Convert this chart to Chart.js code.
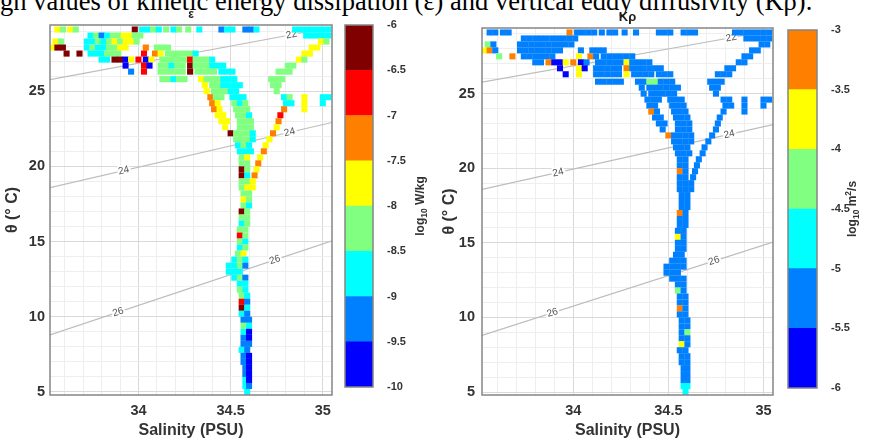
<!DOCTYPE html>
<html>
<head>
<meta charset="utf-8">
<script src="https://cdn.jsdelivr.net/npm/chart.js@4.4.1/dist/chart.umd.min.js"></script>
<style>
  html, body { margin: 0; padding: 0; background: #fff; }
  body { width: 876px; height: 441px; position: relative; overflow: hidden; }
  canvas { position: absolute; top: 0; }
  #caption {
    position: absolute; left: 0; top: -12.5px;
    font-family: 'Liberation Serif', 'Times New Roman', serif;
    font-size: 26.5px; line-height: 26.5px; white-space: nowrap; color: #000;
  }
</style>
</head>
<body>
<div id="caption">gh values of kinetic energy dissipation (ε) and vertical eddy diffusivity (Kρ).</div>
<canvas id="epsChart" width="340" height="441" style="left:0"></canvas>
<canvas id="epsBar" width="90" height="441" style="left:340px"></canvas>
<canvas id="krhoChart" width="350" height="441" style="left:430px"></canvas>
<canvas id="krhoBar" width="96" height="441" style="left:780px"></canvas>
<script>
// binned T-S cells, one row per potential temperature level
const rowTheta = [29.1, 28.7, 28.3, 27.9, 27.5, 27.1, 26.7, 26.3, 25.8, 25.4, 25.0, 24.6, 24.2, 23.8, 23.4, 23.0,
  22.6, 22.2, 21.8, 21.4, 21.0, 20.6, 20.2, 19.8, 19.4, 19.0, 18.6, 18.2, 17.8, 17.4, 17.0, 16.6, 16.2, 15.8, 15.4,
  15.0, 14.6, 14.2, 13.8, 13.4, 13.0, 12.6, 12.2, 11.8, 11.4, 11.0, 10.6, 10.2, 9.8, 9.4, 9.0, 8.6, 8.2, 7.8, 7.4,
  7.0, 6.6, 6.2, 5.8, 5.4, 5.0];

const rowSal = [
  [33.56,33.59,33.63,33.66,33.98,34.02,34.05,34.08,34.11,34.15,34.19,34.22,34.27,34.33,34.45,34.48,34.51,34.58,34.61,34.64,34.85,34.88,34.91,34.94,34.97,35.00,35.03],
  [33.74,33.77,33.80,33.83,33.86,33.89,33.92,33.95,33.98,34.01,34.91,34.94,34.97,35.00,35.03],
  [33.55,33.58,33.72,33.75,33.78,33.81,33.84,33.87,33.90,33.93,33.96,33.99,34.99,35.02],
  [33.53,33.56,33.59,33.72,33.75,33.78,33.81,33.84,33.87,33.90,33.93,34.04,34.10,34.13,34.16,34.94,34.97],
  [33.61,33.68,33.74,33.77,33.80,33.83,33.86,33.89,34.03,34.09,34.12,34.16,34.19,34.22,34.25,34.28,34.31,34.90,34.93],
  [33.80,33.83,33.87,33.90,33.93,33.96,34.00,34.04,34.07,34.13,34.16,34.19,34.22,34.25,34.28,34.31,34.34,34.37,34.40,34.87,34.90],
  [33.93,34.03,34.06,34.12,34.15,34.18,34.21,34.24,34.28,34.31,34.34,34.37,34.40,34.43,34.46,34.81,34.84],
  [33.96,34.03,34.12,34.15,34.18,34.21,34.24,34.28,34.32,34.35,34.38,34.41,34.45,34.48,34.51,34.76,34.79,34.82],
  [34.13,34.16,34.19,34.22,34.25,34.34,34.37,34.40,34.43,34.46,34.49,34.52,34.72,34.75,34.78],
  [34.36,34.40,34.43,34.46,34.49,34.52,34.55,34.73,34.76],
  [34.37,34.41,34.44,34.47,34.50,34.53,34.75],
  [34.39,34.42,34.45,34.51,34.54,34.57,34.79,34.82,34.90,35.00,35.03],
  [34.40,34.43,34.52,34.55,34.58,34.80,34.83,34.90,35.00],
  [34.41,34.44,34.53,34.56,34.59,34.79,34.90],
  [34.43,34.46,34.54,34.57,34.60,34.77],
  [34.45,34.48,34.55,34.58,34.61,34.76],
  [34.47,34.55,34.58,34.61,34.75],
  [34.50,34.53,34.56,34.59,34.62,34.73],
  [34.53,34.56,34.59,34.62,34.71],
  [34.54,34.57,34.60,34.69],
  [34.55,34.58,34.61,34.68],
  [34.56,34.59,34.66],
  [34.56,34.59,34.65],
  [34.56,34.59,34.64],
  [34.56,34.59,34.63],
  [34.56,34.59,34.62],
  [34.56,34.59,34.62],
  [34.57,34.60], [34.57,34.60], [34.57,34.60], [34.56,34.59], [34.56,34.59], [34.56,34.59], [34.55,34.58],
  [34.55,34.58], [34.55,34.58], [34.55,34.58], [34.54,34.57],
  [34.52,34.55,34.58], [34.49,34.52,34.55,34.58], [34.49,34.52,34.55], [34.52,34.55,34.58],
  [34.55,34.58], [34.55,34.58], [34.56,34.59], [34.56,34.59], [34.56,34.59], [34.56,34.59],
  [34.57,34.60], [34.57,34.60], [34.57,34.60], [34.57,34.60], [34.57,34.60], [34.56,34.59],
  [34.57,34.60], [34.57,34.60], [34.58,34.60], [34.58,34.60], [34.58,34.60], [34.58,34.60], [34.59]
];

// log10 epsilon (W/kg)
const rowEps = [
  [-7.7,-8.2,-7.8,-8.3,-6.2,-8.7,-8.6,-8.3,-8.7,-8.2,-8.6,-8.3,-8.4,-8.8,-9.3,-8.7,-8.6,-9.2,-9.4,-8.8,-8.7,-8.6,-8.8,-8.7,-8.6,-8.7,-8.8],
  [-8.7,-8.3,-9.3,-8.6,-8.2,-8.3,-7.8,-7.7,-8.2,-8.4,-8.7,-8.6,-8.7,-8.8,-8.6],
  [-7.6,-8.2,-8.7,-8.8,-8.3,-8.6,-8.2,-7.8,-8.3,-7.7,-7.8,-8.2,-7.6,-8.3],
  [-7.7,-6.1,-6.3,-8.7,-8.3,-8.7,-8.6,-8.3,-8.2,-7.7,-7.8,-7.2,-8.3,-8.2,-8.3,-7.7,-7.8],
  [-6.2,-6.3,-8.7,-8.8,-8.6,-8.3,-8.2,-8.3,-6.7,-7.1,-7.7,-8.2,-8.3,-8.2,-8.3,-8.2,-8.7,-7.7,-7.8],
  [-8.7,-8.6,-6.1,-6.2,-9.6,-7.7,-6.6,-9.7,-7.7,-8.2,-8.3,-8.2,-8.3,-8.2,-6.6,-8.3,-8.2,-8.3,-8.7,-7.7,-8.2],
  [-9.7,-6.8,-9.8,-8.2,-8.3,-8.7,-8.2,-8.3,-6.2,-8.2,-8.3,-8.2,-8.6,-8.7,-8.8,-8.2,-8.3],
  [-9.3,-6.6,-8.2,-8.3,-8.2,-8.3,-8.2,-6.2,-8.2,-8.3,-8.2,-8.3,-8.7,-8.6,-8.7,-8.2,-8.3,-8.2],
  [-8.3,-8.2,-8.7,-8.3,-8.2,-7.7,-8.2,-8.3,-8.2,-8.7,-8.6,-8.7,-8.2,-8.3,-8.2],
  [-7.8,-8.2,-8.3,-8.6,-8.7,-8.8,-8.7,-8.2,-8.3],
  [-7.7,-8.2,-8.3,-8.2,-8.7,-8.6,-8.2],
  [-7.3,-8.2,-8.3,-8.7,-8.6,-8.7,-8.7,-8.2,-7.7,-8.7,-8.6],
  [-7.2,-7.7,-8.2,-8.7,-8.2,-8.7,-8.6,-7.8,-8.7],
  [-7.3,-7.8,-8.2,-8.3,-8.2,-7.2,-7.7],
  [-7.7,-7.8,-8.3,-8.2,-8.7,-6.8],
  [-7.8,-7.7,-8.2,-8.3,-8.2,-7.3],
  [-7.7,-8.2,-8.3,-8.2,-7.7],
  [-6.1,-8.2,-8.3,-8.2,-8.7,-7.3],
  [-8.2,-8.3,-8.2,-8.7,-7.7],
  [-8.7,-8.2,-8.7,-7.8],
  [-8.6,-8.7,-8.8,-7.3],
  [-8.2,-7.7,-7.7],
  [-8.3,-8.2,-7.2],
  [-6.1,-8.2,-7.7],
  [-6.2,-8.7,-7.3],
  [-8.2,-8.3,-7.8],
  [-8.2,-7.7,-7.8],
  [-8.3,-8.2], [-7.7,-8.2], [-8.2,-8.7], [-6.2,-8.2], [-8.3,-8.2], [-8.7,-8.3], [-8.2,-8.3],
  [-6.7,-8.2], [-8.3,-8.7], [-8.7,-8.2], [-8.2,-7.8],
  [-8.7,-8.2,-8.7], [-8.7,-8.8,-8.2,-9.3], [-8.6,-8.7,-8.7], [-8.7,-8.2,-9.2],
  [-8.7,-8.6], [-8.2,-8.7], [-8.3,-8.7], [-6.8,-9.3], [-6.2,-8.7], [-8.7,-9.3],
  [-9.2,-9.3], [-8.3,-8.7], [-8.7,-9.8], [-9.3,-9.7], [-9.2,-9.3], [-8.7,-9.3],
  [-9.3,-9.8], [-9.2,-9.7], [-9.3,-9.8], [-9.2,-9.7], [-8.7,-9.8], [-8.7,-9.3], [-8.8]
];

// log10 K_rho (m^2/s)
const rowKrho = [
  [-5.3,-5.2,-5.3,-5.2,-3.2,-5.2,-5.3,-5.2,-5.2,-5.3,-5.2,-5.2,-5.3,-5.2,-5.3,-5.2,-5.2,-5.3,-5.2,-5.2,-5.3,-5.2,-5.2,-5.3,-5.2,-5.2,-5.3],
  [-5.2,-5.3,-5.2,-5.2,-5.3,-5.2,-5.2,-5.3,-5.2,-5.2,-5.3,-5.2,-5.2,-5.3,-5.2],
  [-4.3,-5.2,-5.2,-5.3,-5.2,-5.2,-5.3,-5.2,-5.2,-5.3,-5.2,-5.2,-5.2,-5.3],
  [-3.7,-3.3,-5.2,-5.2,-5.3,-5.2,-5.2,-5.3,-5.2,-5.2,-5.3,-5.2,-5.2,-5.3,-5.2,-5.2,-5.3],
  [-4.3,-3.2,-5.2,-5.3,-5.2,-5.2,-5.3,-5.2,-3.7,-3.2,-5.2,-5.3,-5.2,-5.2,-5.3,-5.2,-5.2,-5.3,-5.2],
  [-5.2,-5.3,-3.2,-5.7,-5.7,-3.8,-3.3,-5.7,-5.2,-5.2,-5.3,-5.2,-5.2,-5.3,-3.7,-5.2,-5.2,-5.3,-5.2,-5.2,-5.3],
  [-5.7,-3.7,-5.7,-5.2,-5.3,-5.2,-5.2,-5.3,-3.2,-5.2,-5.2,-5.3,-5.2,-5.2,-5.3,-5.2,-5.2],
  [-5.7,-3.7,-5.2,-5.3,-5.2,-5.2,-5.3,-3.8,-5.2,-5.2,-5.3,-5.2,-5.2,-5.3,-5.2,-5.2,-5.3,-5.2],
  [-5.2,-5.3,-5.2,-5.2,-5.3,-5.2,-5.2,-4.3,-4.2,-5.2,-5.3,-5.2,-5.2,-5.3,-5.2],
  [-5.2,-5.3,-5.2,-5.2,-5.3,-5.2,-5.2,-5.3,-5.2],
  [-5.2,-5.3,-5.2,-5.2,-5.3,-5.2,-5.2],
  [-5.2,-5.3,-5.2,-5.2,-5.3,-5.2,-5.2,-5.3,-5.2,-5.2,-5.3],
  [-5.2,-5.3,-5.2,-5.2,-5.3,-5.2,-5.2,-5.3,-5.2],
  [-3.3,-5.2,-5.2,-5.3,-5.2,-5.2,-5.3],
  [-5.2,-5.3,-5.2,-5.2,-5.3,-5.2],
  [-5.3,-5.2,-5.2,-5.3,-5.2,-5.2],
  [-5.2,-5.2,-5.3,-5.2,-5.2],
  [-3.4,-5.2,-5.3,-5.2,-5.2,-5.3],
  [-5.2,-5.3,-5.2,-5.2,-5.2],
  [-5.2,-5.2,-5.3,-5.2],
  [-5.3,-5.2,-5.2,-5.2],
  [-5.2,-5.2,-5.3],
  [-5.2,-5.3,-5.2],
  [-3.2,-5.2,-5.2],
  [-5.2,-5.3,-5.2],
  [-5.2,-5.2,-5.3],
  [-5.3,-5.2,-5.2],
  [-5.2,-5.2], [-5.2,-5.3], [-5.3,-5.2], [-3.2,-5.2], [-5.2,-5.3], [-5.2,-5.2], [-5.3,-5.2],
  [-3.7,-5.2], [-5.2,-5.3], [-5.2,-5.2], [-5.3,-5.2],
  [-5.2,-5.2,-5.3], [-5.2,-5.3,-5.2,-5.2], [-5.2,-5.2,-5.3], [-5.3,-5.2,-5.2],
  [-5.2,-5.2], [-4.3,-5.2], [-5.2,-5.3], [-5.2,-5.2], [-3.3,-5.2], [-5.2,-5.3],
  [-5.2,-5.2], [-5.3,-5.2], [-5.2,-4.3], [-5.2,-5.2], [-3.8,-5.3], [-5.2,-5.2],
  [-5.2,-5.3], [-5.3,-5.2], [-5.2,-5.2], [-5.2,-5.3], [-5.3,-5.2], [-4.8,-4.8], [-4.8]
];

// sigma-theta isopycnals (end points) and where their labels sit
const isoLevel = [22, 24, 26];
const isoSal = [[33.52, 35.05], [33.52, 35.05], [33.52, 35.05]];
const isoTheta = [[25.77, 29.25], [18.58, 22.92], [8.8, 15.05]];
const isoLabelSal = [[34.83], [33.92, 34.82], [33.89, 34.74]];

// colour scales
const jet8 = ['rgb(0,0,255)', 'rgb(0,128,255)', 'rgb(0,255,255)', 'rgb(128,255,128)',
  'rgb(255,255,0)', 'rgb(255,128,0)', 'rgb(255,0,0)', 'rgb(128,0,0)'];
const epsLevels = [-10, -9.5, -9, -8.5, -8, -7.5, -7, -6.5, -6];
const krhoLevels = [-6, -5.5, -5, -4.5, -4, -3.5, -3];

Chart.defaults.font.family = "'Liberation Sans', Arial, sans-serif";
Chart.defaults.color = '#333';

function binColor(v, levels) {
  let i = Math.floor((v - levels[0]) / (levels[1] - levels[0]));
  i = Math.max(0, Math.min(levels.length - 2, i));
  return jet8[i];
}

function cells(values) {
  const pts = [];
  rowTheta.forEach((t, i) => {
    rowSal[i].forEach((s, j) => pts.push({ x: s, y: t, v: values[i][j] }));
  });
  return pts;
}

// frame round the plot area (matlab "box on")
const boxPlugin = {
  id: 'box',
  afterDatasetsDraw(chart) {
    const a = chart.chartArea, ctx = chart.ctx;
    ctx.save();
    ctx.strokeStyle = '#858585';
    ctx.lineWidth = 1.5;
    ctx.strokeRect(a.left, a.top, a.right - a.left, a.bottom - a.top);
    ctx.restore();
  }
};

// inline contour labels, drawn right after each isopycnal line
const isoLabelPlugin = {
  id: 'isoLabels',
  afterDatasetDraw(chart, args) {
    const ds = chart.data.datasets[args.index];
    if (ds.isoIndex === undefined) return;
    const k = ds.isoIndex;
    const xs = chart.scales.x, ys = chart.scales.y, ctx = chart.ctx;
    const s0 = isoSal[k][0], s1 = isoSal[k][1], t0 = isoTheta[k][0], t1 = isoTheta[k][1];
    const ang = Math.atan2(ys.getPixelForValue(t1) - ys.getPixelForValue(t0),
                           xs.getPixelForValue(s1) - xs.getPixelForValue(s0));
    isoLabelSal[k].forEach(s => {
      const t = t0 + (t1 - t0) * (s - s0) / (s1 - s0);
      ctx.save();
      ctx.translate(xs.getPixelForValue(s), ys.getPixelForValue(t));
      ctx.rotate(ang);
      ctx.font = "10px 'Liberation Sans', Arial, sans-serif";
      ctx.textAlign = 'center';
      ctx.textBaseline = 'middle';
      ctx.strokeStyle = '#fff';
      ctx.lineWidth = 4;
      ctx.strokeText(String(isoLevel[k]), 0, 0);
      ctx.fillStyle = '#555';
      ctx.fillText(String(isoLevel[k]), 0, 0);
      ctx.restore();
    });
  }
};

function makePanel(id, values, levels, cfg) {
  const datasets = [{
    data: cells(values),
    pointStyle: 'rect',
    pointRadius: 4.3,
    pointHoverRadius: 4.3,
    borderWidth: 0,
    pointBackgroundColor: ctx => ctx.raw ? binColor(ctx.raw.v, levels) : '#000',
    order: 1
  }];
  isoLevel.forEach((lev, k) => {
    datasets.push({
      isoIndex: k,
      data: isoSal[k].map((s, j) => ({ x: s, y: isoTheta[k][j] })),
      showLine: true,
      pointRadius: 0,
      borderColor: '#bdbdbd',
      borderWidth: 1.2,
      order: 2
    });
  });
  const gridColor = (ctx, major) => (ctx.tick && major(ctx.tick.value)) ? '#d9d9d9' : '#eeeeee';
  return new Chart(document.getElementById(id), {
    type: 'scatter',
    data: { datasets },
    options: {
      responsive: false,
      animation: false,
      layout: { padding: { left: 0, right: cfg.padRight, top: 0, bottom: 0 } },
      plugins: {
        legend: { display: false },
        tooltip: { enabled: false },
        title: {
          display: true,
          text: cfg.title,
          fullSize: false,
          color: '#222',
          font: { size: cfg.titleSize, weight: 'bold' },
          padding: cfg.titlePad
        }
      },
      scales: {
        x: {
          type: 'linear',
          min: 33.52,
          max: 35.05,
          afterFit: s => { s.height = 46; },
          ticks: {
            stepSize: 0.1,
            includeBounds: false,
            autoSkip: false,
            maxRotation: 0,
            padding: 7,
            font: { size: 14.5, weight: 'bold' },
            callback: v => { const r = Math.round(v * 10); return r % 5 === 0 ? String(r / 10) : ''; }
          },
          grid: { drawTicks: false, color: ctx => gridColor(ctx, v => Math.round(v * 10) % 5 === 0) },
          border: { display: false },
          title: {
            display: true,
            text: 'Salinity (PSU)',
            color: '#333',
            font: { size: 16, weight: 'bold' },
            padding: { top: 0, bottom: 1 }
          }
        },
        y: {
          type: 'linear',
          min: 4.8,
          max: 29.4,
          afterFit: s => { s.width = cfg.yWidth; },
          ticks: {
            stepSize: 1,
            includeBounds: false,
            autoSkip: false,
            padding: cfg.yTickPad,
            font: { size: 14.5, weight: 'bold' },
            callback: v => (Math.round(v) % 5 === 0 ? String(Math.round(v)) : '')
          },
          grid: { drawTicks: false, color: ctx => gridColor(ctx, v => Math.round(v) % 5 === 0) },
          border: { display: false },
          title: {
            display: true,
            text: 'θ (° C)',
            color: '#333',
            font: { size: 16, weight: 'bold' },
            padding: { top: cfg.yTitlePad, bottom: 0 }
          }
        }
      }
    },
    plugins: [boxPlugin, isoLabelPlugin]
  });
}

// vertical unit text beside a colour bar, with sub/superscript parts
function unitPlugin(parts, centerX) {
  return {
    id: 'unit',
    afterDraw(chart) {
      const ctx = chart.ctx, a = chart.chartArea;
      ctx.save();
      ctx.translate(centerX, (a.top + a.bottom) / 2);
      ctx.rotate(-Math.PI / 2);
      ctx.fillStyle = '#333';
      ctx.textBaseline = 'alphabetic';
      let total = 0;
      parts.forEach(p => {
        ctx.font = `bold ${p.size}px 'Liberation Sans', Arial, sans-serif`;
        p.w = ctx.measureText(p.t).width;
        total += p.w;
      });
      let x = -total / 2;
      parts.forEach(p => {
        ctx.font = `bold ${p.size}px 'Liberation Sans', Arial, sans-serif`;
        ctx.fillText(p.t, x, 4 + p.dy);
        x += p.w;
      });
      ctx.restore();
    }
  };
}

function makeColorbar(id, levels, cfg) {
  const datasets = [];
  for (let i = 0; i < levels.length - 1; i++) {
    datasets.push({
      data: [[levels[i], levels[i + 1]]],
      backgroundColor: jet8[i],
      borderWidth: 0,
      barPercentage: 1,
      categoryPercentage: 1,
      grouped: false
    });
  }
  return new Chart(document.getElementById(id), {
    type: 'bar',
    data: { labels: [''], datasets },
    options: {
      responsive: false,
      animation: false,
      layout: { padding: cfg.padding },
      plugins: { legend: { display: false }, tooltip: { enabled: false } },
      scales: {
        x: { display: false },
        y: {
          position: 'right',
          min: levels[0],
          max: levels[levels.length - 1],
          afterFit: s => { s.width = cfg.axisWidth; },
          ticks: {
            stepSize: 0.5,
            padding: 6,
            color: '#333',
            font: { size: 11, weight: 'bold' },
            callback: v => String(v)
          },
          grid: { display: false },
          border: { display: false }
        }
      }
    },
    plugins: [boxPlugin, unitPlugin(cfg.unit, cfg.unitX)]
  });
}

makePanel('epsChart', rowEps, epsLevels, {
  title: 'ε', titleSize: 12, titlePad: { top: 7, bottom: 3.6 },
  padRight: 8, yWidth: 50, yTickPad: 5, yTitlePad: 2.5
});
makePanel('krhoChart', rowKrho, krhoLevels, {
  title: 'Kρ', titleSize: 13, titlePad: { top: 10, bottom: 2.4 },
  padRight: 7, yWidth: 52, yTickPad: 7, yTitlePad: 9.5
});

makeColorbar('epsBar', epsLevels, {
  padding: { left: 5, right: 0, top: 25, bottom: 54 },
  axisWidth: 57,
  unitX: 80,
  unit: [{ t: 'log', size: 12, dy: 0 }, { t: '10', size: 8.5, dy: 3 }, { t: ' W/kg', size: 12, dy: 0 }]
});
makeColorbar('krhoBar', krhoLevels, {
  padding: { left: 8, right: 0, top: 30, bottom: 53 },
  axisWidth: 59,
  unitX: 72,
  unit: [{ t: 'log', size: 12, dy: 0 }, { t: '10', size: 8.5, dy: 3 }, { t: ' m', size: 12, dy: 0 },
         { t: '2', size: 8.5, dy: -5 }, { t: '/s', size: 12, dy: 0 }]
});
</script>
</body>
</html>
